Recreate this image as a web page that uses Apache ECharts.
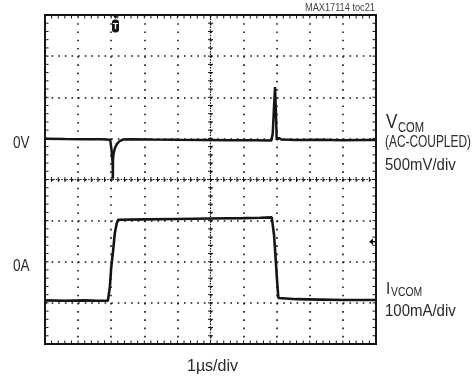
<!DOCTYPE html>
<html>
<head>
<meta charset="utf-8">
<script src="https://cdn.jsdelivr.net/npm/echarts@6/dist/echarts.min.js"></script>
<style>
  html, body { margin: 0; padding: 0; background: #fff; }
  #chart { width: 476px; height: 380px; }
</style>
</head>
<body>
<div id="chart"></div>
<script>
// Time axis: 10 divisions at 1 µs/div
const timeRangeUs = [0, 10];
// Vertical graticule in divisions
const divRange = [-4, 4];

// VCOM (AC-coupled), mV relative to the 0V marker, 500 mV/div
const vcomTimeUs = [0, 0.6, 1.2, 1.7, 1.97, 2.01, 2.03, 2.045, 2.05, 2.055, 2.07, 2.11, 2.17, 2.25, 2.35, 2.6, 3.2, 4.0, 4.8, 5.6, 6.3, 6.84, 6.88, 6.92, 6.95, 6.975, 7.0, 7.03, 7.07, 7.15, 7.6, 8.3, 9.0, 9.6, 10];
const vcomMv     = [-5, -8, -10, -12, -18, -140, -230, -300, -490, -250, -190, -120, -70, -35, -15, -12, -15, -18, -20, -22, -24, -25, 60, 390, 625, 330, -15, -30, 5, -15, -20, -18, -22, -20, -20];

// IVCOM load current, mA, 100 mA/div
const ivcomTimeUs = [0, 0.6, 1.2, 1.6, 1.9, 1.93, 1.96, 2.0, 2.05, 2.11, 2.17, 2.21, 2.27, 3.0, 4.0, 5.0, 6.0, 6.5, 6.85, 6.87, 6.92, 6.97, 7.01, 7.05, 7.1, 7.6, 8.3, 9.0, 10];
const ivcomMa     = [0, -1, 0, -1, -1, -5, 33, 80, 115, 164, 188, 196, 198, 197, 198, 199, 200, 201, 202, 203, 159, 99, 50, 6, 2, 3, 2, 1, 1];

// Channel scales (min/max of each channel across the 8 vertical divisions)
const vcomRangeMv = [-2500, 1500];
const ivcomRangeMa = [-106, 694];

const chart = echarts.init(document.getElementById('chart'), null, { renderer: 'canvas' });

const INK = '#151515';
const TEXT = '#2a2a2a';
const FONT = '"Liberation Sans", Arial, Helvetica, sans-serif';

const pair = (xs, ys) => xs.map((x, i) => [x, ys[i]]);

// graticule geometry: 10 x 8 divisions
const G = { left: 45, top: 15, width: 331, height: 329 };
const divX = G.width / 10, divY = G.height / 8;
const MINOR = 5;

const hidden = { show: false };

// graticule ticks and centre cross-hair, placed through the division axes
function renderGraticule(params, api) {
  const kids = [];
  const seg = (a, b, style) => kids.push({ type: 'line', shape: { x1: a[0], y1: a[1], x2: b[0], y2: b[1] }, style });
  const tick = { stroke: INK, lineWidth: 1 };
  const [x0, x1] = timeRangeUs, [y0, y1] = divRange;
  const yc = 0, xc = (x0 + x1) / 2;
  const BT = 3.5, CT = 2.5;
  const nx = (x1 - x0) * MINOR, ny = (y1 - y0) * MINOR;
  for (let i = 1; i < nx; i++) {
    const t = x0 + i / MINOR;
    const b = api.coord([t, y0]), tp = api.coord([t, y1]), c = api.coord([t, yc]);
    seg(b, [b[0], b[1] - BT], tick);
    seg(tp, [tp[0], tp[1] + BT], tick);
    seg([c[0], c[1] - CT], [c[0], c[1] + CT], tick);
  }
  for (let j = 1; j < ny; j++) {
    const v = y0 + j / MINOR;
    const l = api.coord([x0, v]), r = api.coord([x1, v]), c = api.coord([xc, v]);
    seg(l, [l[0] + BT, l[1]], tick);
    seg(r, [r[0] - BT, r[1]], tick);
    seg([c[0] - CT, c[1]], [c[0] + CT, c[1]], tick);
  }
  const cross = { stroke: INK, lineWidth: 1.2, lineDash: [1.5, 1.2] };
  seg(api.coord([x0, yc]), api.coord([x1, yc]), cross);
  seg(api.coord([xc, y0]), api.coord([xc, y1]), cross);
  return { type: 'group', children: kids };
}

function label(text, x, y, size, sx, fill) {
  return {
    type: 'text', x, y, scaleX: sx, silent: true,
    style: { text, fontSize: size, fontFamily: FONT, fill: fill || TEXT, textAlign: 'left', textVerticalAlign: 'middle' }
  };
}

const trigX = 115.5;
const option = {
  animation: false,
  backgroundColor: '#fff',
  grid: Object.assign({ show: true, borderColor: INK, borderWidth: 2, backgroundColor: 'transparent' }, G),
  xAxis: [{
    type: 'value', min: timeRangeUs[0], max: timeRangeUs[1], interval: 1,
    axisLine: { show: false, onZero: false }, axisTick: hidden, axisLabel: hidden,
    splitLine: { show: true, lineStyle: { color: INK, width: 1.6, type: [1.6, divY / MINOR - 1.6] } }
  }],
  yAxis: [
    { type: 'value', min: vcomRangeMv[0], max: vcomRangeMv[1], show: false },
    { type: 'value', min: ivcomRangeMa[0], max: ivcomRangeMa[1], show: false },
    {
      type: 'value', min: divRange[0], max: divRange[1], interval: 1,
      axisLine: { show: false, onZero: false }, axisTick: hidden, axisLabel: hidden,
      splitLine: { show: true, lineStyle: { color: INK, width: 1.6, type: [1.6, divX / MINOR - 1.6] } }
    }
  ],
  series: [
    {
      name: 'graticule', type: 'custom', xAxisIndex: 0, yAxisIndex: 2,
      data: [[0, 0]], renderItem: renderGraticule, silent: true, z: 2
    },
    {
      name: 'VCOM', type: 'line', xAxisIndex: 0, yAxisIndex: 0,
      data: pair(vcomTimeUs, vcomMv), showSymbol: false,
      lineStyle: { color: INK, width: 2.5 }, z: 5
    },
    {
      name: 'IVCOM', type: 'line', xAxisIndex: 0, yAxisIndex: 1,
      data: pair(ivcomTimeUs, ivcomMa), showSymbol: false,
      lineStyle: { color: INK, width: 2.6 }, z: 5
    }
  ],
  graphic: [
    label('MAX17114 toc21', 305, 8, 10, 0.92, '#444'),
    label('0V', 13, 143, 17, 0.8),
    label('0A', 13, 266, 17, 0.8),
    label('V', 386, 122, 20, 0.85),
    label('COM', 398, 128, 14, 0.8),
    label('(AC-COUPLED)', 385, 142, 17, 0.70),
    label('500mV/div', 385, 165, 17, 0.88),
    label('I', 386, 289, 17, 0.9),
    label('VCOM', 391, 292, 13, 0.8),
    label('100mA/div', 385, 311, 17, 0.88),
    label('1µs/div', 187, 367, 16, 1.0),
    // trigger position marker
    { type: 'polygon', silent: true, shape: { points: [[trigX - 3, 15], [trigX + 3, 15], [trigX, 19]] }, style: { fill: INK } },
    { type: 'rect', silent: true, shape: { x: trigX - 3.5, y: 19.5, width: 7, height: 13, r: 3 }, style: { fill: INK } },
    { type: 'text', silent: true, x: trigX, y: 26.5, style: { text: 'T', fontSize: 9, fontWeight: 'bold', fontFamily: FONT, fill: '#fff', textAlign: 'center', textVerticalAlign: 'middle' } },
    // reference-level arrow on the right edge
    { type: 'polygon', silent: true, shape: { points: [[369, 241.7], [373, 238.5], [373, 245]] }, style: { fill: INK } },
    { type: 'line', silent: true, shape: { x1: 372, y1: 241.7, x2: 376, y2: 241.7 }, style: { stroke: INK, lineWidth: 1.5 } }
  ]
};

chart.setOption(option);
</script>
</body>
</html>
